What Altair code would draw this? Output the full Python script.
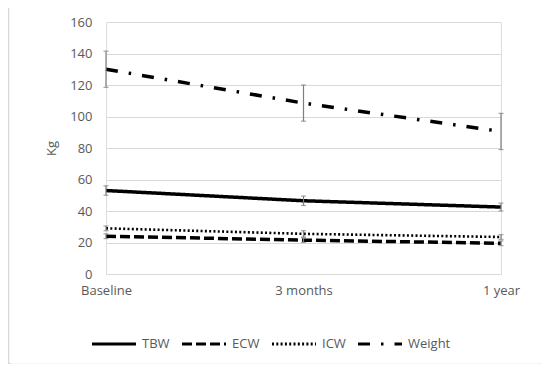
import altair as alt
import pandas as pd

categories = ["Baseline", "3 months", "1 year"]
series = ["TBW", "ECW", "ICW", "Weight"]
tbw = [53, 46.5, 42.5]
tbw_err = [3, 3, 2.5]
ecw = [24, 21.5, 19.5]
ecw_err = [1.5, 1.5, 1.5]
icw = [29, 25.5, 23.5]
icw_err = [1.5, 2, 1.5]
weight = [130, 108.5, 90.5]
weight_err = [11.5, 11.5, 11.5]
y_ticks = [0, 20, 40, 60, 80, 100, 120, 140, 160]

vals = {"TBW": (tbw, tbw_err), "ECW": (ecw, ecw_err), "ICW": (icw, icw_err), "Weight": (weight, weight_err)}
widths = {"TBW": 3.5, "ECW": 3.5, "ICW": 2.6, "Weight": 3.5}
rows = []
for s in series:
    v, e = vals[s]
    for c, vv, ee in zip(categories, v, e):
        rows.append({"cat": c, "series": s, "value": vv, "lo": vv - ee, "hi": vv + ee, "w": widths[s]})
df = pd.DataFrame(rows)

font = "Open Sans"
gray = "#595959"

x_enc = alt.X("cat:N", sort=categories, scale=alt.Scale(type="point", padding=0),
              axis=alt.Axis(title=None, labelAngle=0, labelPadding=10, ticks=False, domain=False,
                            labelFont=font, labelFontSize=13, labelColor=gray, grid=False))

y_axis = alt.Axis(values=y_ticks, title="Kg", titleFont=font, titleFontSize=13,
                  titleFontWeight="normal", titleColor=gray, titlePadding=11,
                  labelFont=font, labelFontSize=13, labelColor=gray, labelPadding=14,
                  labelOverlap=False, ticks=False, domain=False, grid=True,
                  gridColor="#d9d9d9", gridWidth=1)
y_scale = alt.Scale(domain=[0, 160], nice=False)

def yenc(field):
    return alt.Y(field, type="quantitative", scale=y_scale, axis=y_axis)

base = alt.Chart(df)

lines = base.mark_line(strokeCap="butt", color="black").encode(
    x=x_enc,
    y=yenc("value"),
    strokeDash=alt.StrokeDash("series:N", sort=series,
                              scale=alt.Scale(domain=series,
                                              range=[[1, 0], [10, 4], [2, 2.3], [12, 11, 2.5, 11]]),
                              legend=alt.Legend(title=None, orient="none", direction="horizontal",
                                                legendX=-16, legendY=298,
                                                symbolType="stroke", symbolSize=1936,
                                                symbolStrokeWidth=3.2, symbolStrokeColor="black",
                                                labelFont=font, labelFontSize=13, labelColor=gray,
                                                labelOffset=4, columnPadding=5)),
    strokeWidth=alt.StrokeWidth("w:Q", scale=None),
    detail="series:N",
)

err_rule = base.mark_rule(color="#7f7f7f", strokeWidth=1.2).encode(
    x=alt.X("cat:N", sort=categories), y=yenc("lo"), y2="hi:Q")
cap_lo = base.mark_tick(color="#7f7f7f", thickness=1.2, size=5).encode(
    x=alt.X("cat:N", sort=categories), y=yenc("lo"))
cap_hi = base.mark_tick(color="#7f7f7f", thickness=1.2, size=5).encode(
    x=alt.X("cat:N", sort=categories), y=yenc("hi"))

border = alt.Chart(pd.DataFrame({"a": [0]})).mark_rect(
    fill=None, stroke="#d9d9d9", strokeWidth=1.5, cornerRadius=3, clip=False).encode(
    x=alt.value(-97.5), x2=alt.value(436.5), y=alt.value(-17.5), y2=alt.value(342.5))

chart = alt.layer(border, lines, err_rule, cap_lo, cap_hi).properties(
    width=395, height=252,
    padding={"left": 98, "top": 14, "right": 40, "bottom": 90},
    autosize=alt.AutoSizeParams(type="none"),
).configure_view(stroke=None).configure(background="white")

chart.save("out.html", embed_options={"renderer": "svg", "actions": False})
